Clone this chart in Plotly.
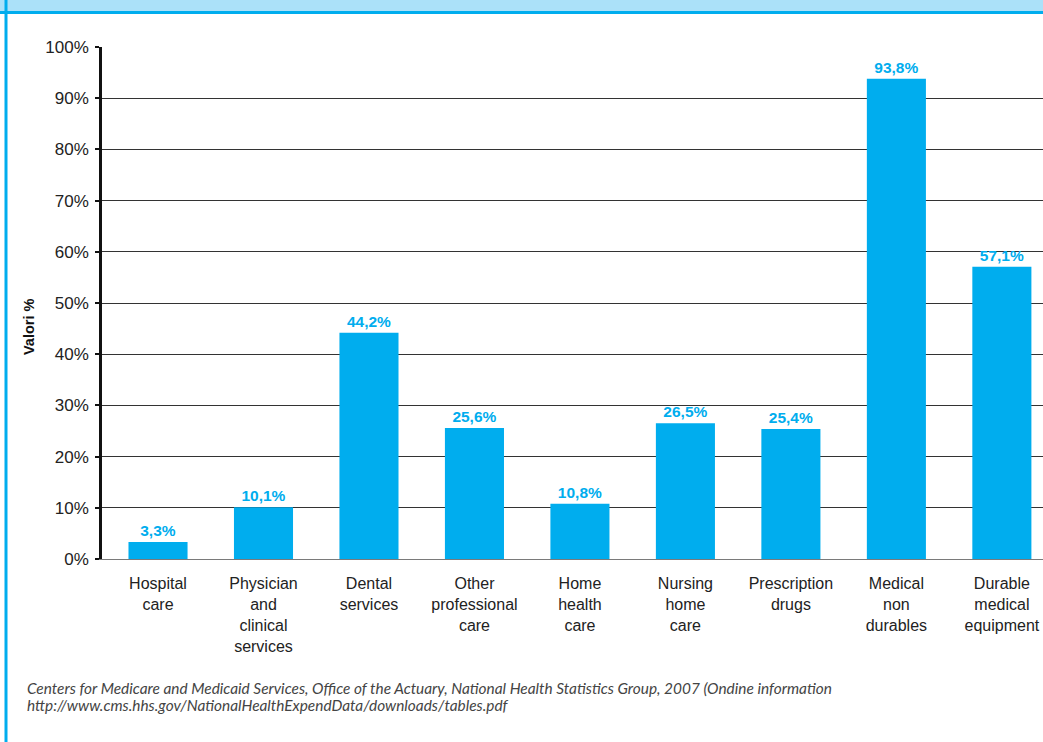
import plotly.graph_objects as go

# Share of spending paid out of pocket, by type of health service
categories = [
    "Hospital<br>care",
    "Physician<br>and<br>clinical<br>services",
    "Dental<br>services",
    "Other<br>professional<br>care",
    "Home<br>health<br>care",
    "Nursing<br>home<br>care",
    "Prescription<br>drugs",
    "Medical<br>non<br>durables",
    "Durable<br>medical<br>equipment",
]
values = [3.3, 10.1, 44.2, 25.6, 10.8, 26.5, 25.4, 93.8, 57.1]
y_ticks = [0, 10, 20, 30, 40, 50, 60, 70, 80, 90, 100]
y_tick_labels = [f"{t}%" for t in y_ticks]
source_lines = [
    "Centers for Medicare and Medicaid Services, Office of the Actuary, "
    "National Health Statistics Group, 2007 (Ondine information",
    "http://www.cms.hhs.gov/NationalHealthExpendData/downloads/tables.pdf",
]

W, H = 1043, 742
L, R, T, B = 102, 0, 47, 183
BLUE = "#00adee"

labels = [f"{v:.1f}".replace(".", ",") + "%" for v in values]
idx = list(range(len(categories)))

fig = go.Figure(
    go.Bar(
        x=idx,
        y=values,
        width=0.56,
        marker=dict(color=BLUE, line=dict(width=0)),
        text=labels,
        textposition="outside",
        cliponaxis=False,
        textfont=dict(family="Liberation Sans, Arial, sans-serif", size=15.5, color=BLUE),
        texttemplate="<b>%{text}</b>",
    )
)


def px_x(p):
    return (p - L) / (W - L - R)


def px_y(p):
    return (H - B - p) / (H - T - B)


annotations = [
    dict(text="<b>Valori %</b>", xref="paper", yref="paper",
         x=px_x(29), y=px_y(327), textangle=-90, showarrow=False,
         font=dict(size=14.5, color="#111"), xanchor="center", yanchor="middle"),
]
for k, line in enumerate(source_lines):
    annotations.append(
        dict(text=f"<i>{line}</i>", xref="paper", yref="paper",
             x=px_x(25), y=px_y(688 + 17 * k),
             xanchor="left", yanchor="middle", align="left", showarrow=False,
             font=dict(family="Lato, Open Sans, sans-serif", size=15.4, color="#444"))
    )

fig.update_layout(
    width=W,
    height=H,
    margin=dict(l=L, r=R, t=T, b=B, pad=0),
    paper_bgcolor="white",
    plot_bgcolor="white",
    showlegend=False,
    font=dict(family="Liberation Sans, Arial, sans-serif", color="#222"),
    xaxis=dict(
        range=[-0.531, 8.39],
        tickmode="array",
        tickvals=idx,
        ticktext=categories,
        ticks="",
        showgrid=False,
        zeroline=False,
        showline=True,
        linecolor="#7a7a7a",
        linewidth=1,
        tickfont=dict(size=16, color="#222"),
        ticklabelstandoff=10,
        fixedrange=True,
    ),
    yaxis=dict(
        range=[0, 100],
        tickmode="array",
        tickvals=y_ticks,
        ticktext=y_tick_labels,
        ticks="outside",
        ticklen=4,
        tickwidth=2,
        tickcolor="#111",
        showgrid=True,
        gridcolor="#333",
        gridwidth=1,
        zeroline=False,
        showline=True,
        linecolor="#111",
        linewidth=2.5,
        tickfont=dict(size=17, color="#222"),
        ticklabelstandoff=3,
        fixedrange=True,
    ),
    shapes=[
        # header band and rule
        dict(type="rect", xref="paper", yref="paper",
             x0=px_x(0), x1=px_x(W), y0=px_y(0), y1=px_y(11),
             fillcolor="#abe1f9", line=dict(width=0), layer="above"),
        dict(type="line", xref="paper", yref="paper",
             x0=px_x(0), x1=px_x(W), y0=px_y(12.5), y1=px_y(12.5),
             line=dict(color=BLUE, width=3), layer="above"),
        # left frame rule
        dict(type="line", xref="paper", yref="paper",
             x0=px_x(6), x1=px_x(6), y0=px_y(0), y1=px_y(H),
             line=dict(color=BLUE, width=3), layer="above"),
    ],
    annotations=annotations,
)

fig.write_html("out.html")
